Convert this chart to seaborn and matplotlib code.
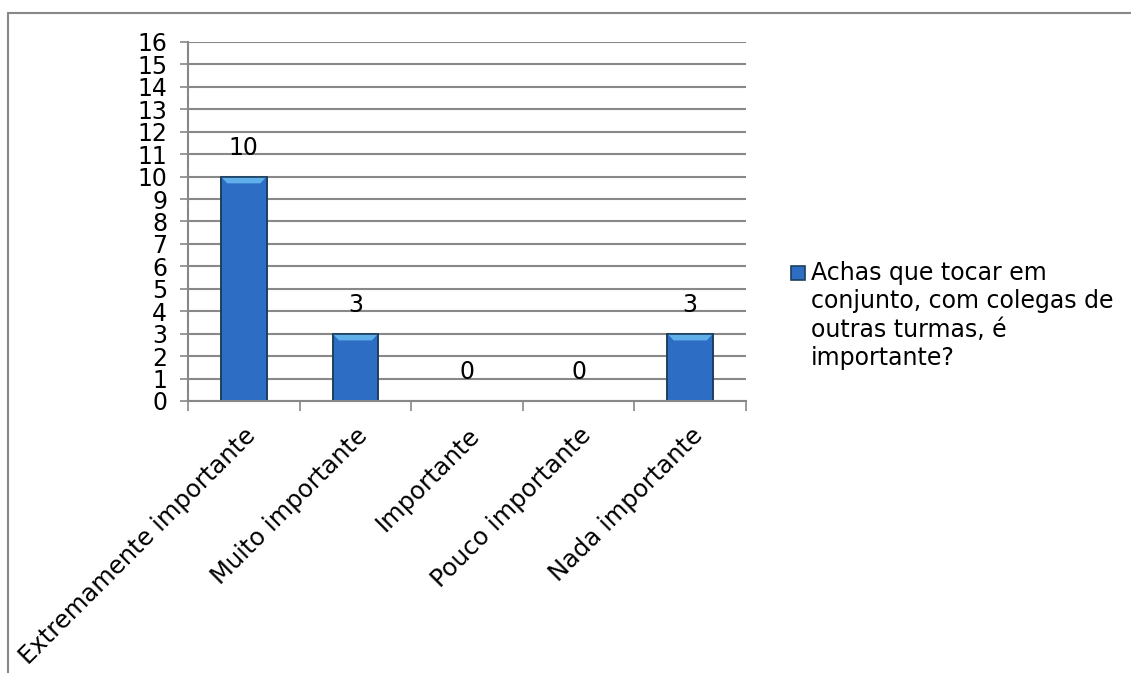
import matplotlib.pyplot as plt
import pandas as pd
import seaborn as sns
from matplotlib.legend_handler import HandlerPatch
from matplotlib.lines import Line2D
from matplotlib.patches import Polygon, Rectangle
from matplotlib.ticker import FixedLocator

categorias = ["Extremamente importante", "Muito importante", "Importante",
              "Pouco importante", "Nada importante"]
respostas = [10, 3, 0, 0, 3]
serie = "Achas que tocar em\nconjunto, com colegas de\noutras turmas, é\nimportante?"

df = pd.DataFrame({"categoria": categorias, "respostas": respostas, "serie": serie})

sns.set_theme(style="white")
plt.rcParams["font.family"] = ["DejaVu Sans"]
plt.rcParams["text.color"] = "black"
plt.rcParams["xtick.labelcolor"] = "black"
plt.rcParams["ytick.labelcolor"] = "black"

bar_c = "#2e6dc4"
edge_c = "#1d3f5e"
bevel_c = "#5fb0ea"
grid_c = "#888888"

fig = plt.figure(figsize=(11.31, 6.73), dpi=100)
ax = fig.add_axes([0.1662, 0.4042, 0.4934, 0.5334])

sns.barplot(data=df, x="categoria", y="respostas", hue="serie", ax=ax,
            palette=[bar_c], width=0.41, edgecolor=edge_c, linewidth=1.2,
            saturation=1)

for cont in ax.containers:
    ax.bar_label(cont, labels=[str(v) for v in respostas], padding=12, fontsize=17,
                 color="black")

ax.set_ylim(0, 16)
ax.set_xlim(-0.5, len(categorias) - 0.5)

# light bevel on top of each bar (Excel style)
for cont in ax.containers:
    for p in cont.patches:
        x0, w, h = p.get_x(), p.get_width(), p.get_height()
        if h <= 0:
            continue
        dx = w * 0.14
        dy = 0.3
        ax.add_patch(Polygon([[x0, h], [x0 + w, h], [x0 + w - dx, h - dy],
                              [x0 + dx, h - dy]], closed=True, facecolor=bevel_c,
                             edgecolor="none", zorder=p.get_zorder() + 0.1))
        ax.add_patch(Rectangle((x0, 0), w, h, facecolor="none", edgecolor=edge_c,
                               linewidth=1.2, zorder=p.get_zorder() + 0.2))

ax.set_yticks(range(0, 17))
ax.yaxis.grid(True, color=grid_c, linewidth=1.5)
ax.set_axisbelow(True)
ax.tick_params(axis="y", which="major", length=6, width=1.2, color=grid_c,
               labelsize=17, pad=9, left=True)
ax.xaxis.set_minor_locator(FixedLocator([i - 0.5 for i in range(len(categorias) + 1)]))
ax.tick_params(axis="x", which="major", length=0, labelsize=17.5, pad=16)
ax.tick_params(axis="x", which="minor", length=7, width=1.2, color=grid_c, bottom=True)
plt.setp(ax.get_xticklabels(), rotation=45, ha="right", rotation_mode="anchor")
ax.set_xlabel("")
ax.set_ylabel("")

for side in ["top", "right"]:
    ax.spines[side].set_visible(False)
for side in ["left", "bottom"]:
    ax.spines[side].set_color(grid_c)
    ax.spines[side].set_linewidth(1.5)


def top_square(legend, orig_handle, xdescent, ydescent, width, height, fontsize):
    # square aligned with the first line of the multi-line label
    size = 0.56 * fontsize
    return Rectangle((-xdescent + width - size, -ydescent + height + 0.2 * size),
                     size, size)


sns.move_legend(ax, "upper left", bbox_to_anchor=(0.677, 0.644),
                bbox_transform=fig.transFigure, frameon=False, title=None,
                fontsize=17, handlelength=0.75, handleheight=4.4, handletextpad=0.25,
                handler_map={Rectangle: HandlerPatch(patch_func=top_square)})
leg = ax.get_legend()
for t in leg.get_texts():
    t.set_linespacing(1.23)
for h in leg.legend_handles:
    h.set_edgecolor(edge_c)

# chart area border (top and left edges visible)
fig.add_artist(Line2D([0.007, 1.0], [0.981, 0.981], color=grid_c, linewidth=1.5,
                      transform=fig.transFigure))
fig.add_artist(Line2D([0.007, 0.007], [0.0, 0.981], color=grid_c, linewidth=1.5,
                      transform=fig.transFigure))

fig.savefig("out.png", dpi=100, facecolor="white")
